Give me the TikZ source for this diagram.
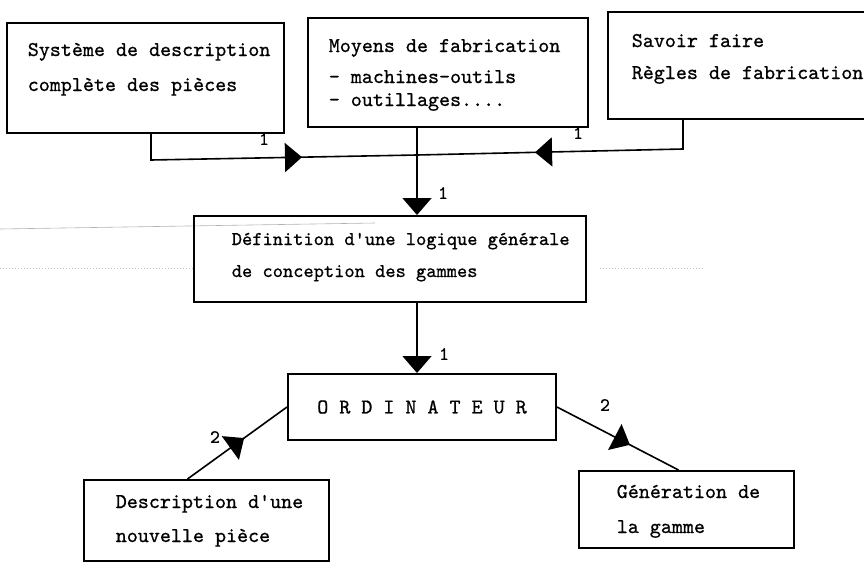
\documentclass[tikz,border=0pt]{standalone}
\usepackage{fontspec}
\usepackage{tikz}
\usetikzlibrary{arrows.meta,decorations.markings}
\newfontfamily\typo{lmmono10-regular}[Extension=.otf,FakeBold=0.8]

\begin{document}
\begin{tikzpicture}[x=1pt,y=-1pt,line width=1.6pt,
    box/.style={draw,line width=2pt,rectangle,anchor=north west,inner sep=0pt},
    txt/.style={anchor=base west,inner sep=0pt,align=left,font=\typo\fontsize{21}{31}\selectfont},
    lbl/.style={inner sep=0pt,font=\typo\fontsize{19}{19}\selectfont},
    tip/.style={-{Triangle[length=17pt,width=29pt]}},
    midtip/.style={postaction={decorate},decoration={markings,
        mark=at position #1 with {\arrow{Triangle[length=17pt,width=29pt]}}}}]
  \useasboundingbox (0,0) rectangle (864,562);

  % traces du document d'origine
  \draw[gray!60,line width=0.6pt] (0,229) -- (375,223);
  \draw[gray!50,dotted,line width=1pt] (0,268) -- (195,268) (600,268) -- (705,268);

  \node[box,minimum width=277pt,minimum height=110pt] (s) at (6,22)  {};
  \node[box,minimum width=280pt,minimum height=109pt] (m) at (307,17) {};
  \node[box,minimum width=290pt,minimum height=107pt] (k) at (607,11) {};
  \node[box,minimum width=392pt,minimum height=86pt]  (d) at (193,215) {};
  \node[box,minimum width=268pt,minimum height=66pt,
        font=\typo\fontsize{21}{21}\selectfont] (o) at (287,373) {O R D I N A T E U R};
  \node[box,minimum width=245pt,minimum height=81pt]  (n) at (83,479) {};
  \node[box,minimum width=215pt,minimum height=77pt]  (g) at (578,470) {};

  % le point de base est celui de la derniere ligne
  \node[txt] (s1) at ([shift={(21,69)}]s.north west) {Système de description\\[4pt]complète des pièces};
  \node[txt] (m1) at ([shift={(21,89)}]m.north west) {Moyens de fabrication\\- machines-outils\\[-8pt]- outillages....};
  \node[txt] (k1) at ([shift={(24,68)}]k.north west) {Savoir faire\\[1pt]Règles de fabrication};
  \node[txt,font=\typo\fontsize{19.5}{32}\selectfont] (d1) at ([shift={(38,62)}]d.north west)
        {Définition d'une logique générale\\de conception des gammes};
  \node[txt] (n1) at ([shift={(32,63)}]n.north west) {Description d'une\\[3pt]nouvelle pièce};
  \node[txt] (g1) at ([shift={(38,63)}]g.north west) {Génération de\\[4pt]la gamme};

  \coordinate (a) at (151,160);
  \coordinate (j) at (417,155);
  \coordinate (b) at (683,149);

  \draw[midtip=177pt] (s.south -| a) -- (a) -- (j);
  \draw[midtip=177pt] (b |- k.south) -- (b) -- (j);
  \draw[tip] (m.south -| j) -- (d.north -| j);
  \draw[tip] (d.south -| j) -- (o.north -| j);
  \draw[midtip=0.57] ([xshift=-19pt]n.north) -- (o.west);
  \draw[midtip=0.6] (o.east) -- ([xshift=-8pt]g.north);

  \node[lbl] (l1) at (264,139) {1};
  \node[lbl] (l2) at (578,133) {1};
  \node[lbl] (l3) at (443,193) {1};
  \node[lbl] (l4) at (444,354) {1};
  \node[lbl] (l5) at (215,437) {2};
  \node[lbl] (l6) at (605,405) {2};
\end{tikzpicture}
\end{document}
